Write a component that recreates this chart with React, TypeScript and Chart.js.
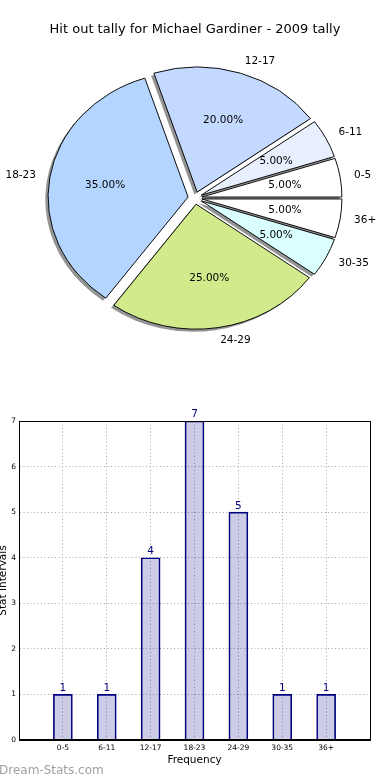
import React, { useEffect, useRef } from 'react';
import { Chart, registerables } from 'chart.js';

Chart.register(...registerables);

// ---------- data ----------
const TITLE = 'Hit out tally for Michael Gardiner - 2009 tally';
const categories = ['0-5', '6-11', '12-17', '18-23', '24-29', '30-35', '36+'];
const tallies = [1, 1, 4, 7, 5, 1, 1];
const sliceColors = ['#ffffff', '#e8f0ff', '#c4d9ff', '#b3d5ff', '#d1eb8c', '#d9ffff', '#ffffff'];
const yMin = 0;
const yMax = 7;
const X_TITLE = 'Frequency';
const Y_TITLE = 'Stat Intervals';
const WATERMARK = 'Dream-Stats.com';

// ---------- styling ----------
const FONT = '"DejaVu Sans", sans-serif';
const R = 140;
const SY = 125 / 140;
const EXPLODE = 7;

const total = tallies.reduce((a, b) => a + b, 0);
// Matplotlib draws counter-clockwise from 3 o'clock; Chart.js clockwise, so reverse.
const pieLabels = [...categories].reverse();
const pieValues = [...tallies].reverse();
const pieColors = [...sliceColors].reverse();

const piePlugin = {
  id: 'mplPie',
  afterDatasetsUpdate(chart: any) {
    const meta = chart.getDatasetMeta(0);
    meta.data.forEach((el: any) => {
      const mid = (el.startAngle + el.endAngle) / 2;
      el.x += Math.cos(mid) * EXPLODE;
      el.y += Math.sin(mid) * EXPLODE;
    });
  },
  beforeDatasetsDraw(chart: any) {
    const ctx = chart.ctx;
    const a = chart.chartArea;
    const cx = (a.left + a.right) / 2;
    const cy = (a.top + a.bottom) / 2;
    ctx.save();
    ctx.translate(cx, cy);
    ctx.scale(1, SY);
    ctx.translate(-cx, -cy);
    const meta = chart.getDatasetMeta(0);
    ctx.fillStyle = 'rgba(0,0,0,0.42)';
    meta.data.forEach((el: any) => {
      const x = el.x - 2.8;
      const y = el.y + 2.8;
      ctx.beginPath();
      ctx.moveTo(x, y);
      ctx.arc(x, y, el.outerRadius, el.startAngle, el.endAngle);
      ctx.closePath();
      ctx.fill();
    });
  },
  afterDatasetsDraw(chart: any) {
    const ctx = chart.ctx;
    ctx.restore();
    const a = chart.chartArea;
    const cy = (a.top + a.bottom) / 2;
    const meta = chart.getDatasetMeta(0);
    ctx.save();
    ctx.fillStyle = '#000';
    ctx.font = `10.5px ${FONT}`;
    ctx.textBaseline = 'middle';
    meta.data.forEach((el: any, i: number) => {
      const mid = (el.startAngle + el.endAngle) / 2;
      const dx = Math.cos(mid);
      const dy = Math.sin(mid);
      const lx = el.x + dx * 1.1 * R;
      const ly = cy + (el.y - cy + dy * 1.1 * R) * SY;
      ctx.textAlign = dx > 0 ? 'left' : 'right';
      ctx.fillText(pieLabels[i], lx, ly);
      const px = el.x + dx * 0.6 * R;
      const py = cy + (el.y - cy + dy * 0.6 * R) * SY;
      ctx.textAlign = 'center';
      ctx.fillText(((pieValues[i] / total) * 100).toFixed(2) + '%', px, py);
    });
    ctx.restore();
  },
  afterDraw(chart: any) {
    const ctx = chart.ctx;
    ctx.save();
    ctx.fillStyle = '#000';
    ctx.font = `13px ${FONT}`;
    ctx.textAlign = 'center';
    ctx.textBaseline = 'middle';
    ctx.fillText(TITLE, 195, 30);
    ctx.restore();
  },
};

const barPlugin = {
  id: 'mplBar',
  afterDatasetsDraw(chart: any) {
    const ctx = chart.ctx;
    const meta = chart.getDatasetMeta(0);
    const a = chart.chartArea;
    ctx.save();
    ctx.font = `10.5px ${FONT}`;
    ctx.fillStyle = '#000080';
    ctx.textAlign = 'center';
    ctx.textBaseline = 'bottom';
    meta.data.forEach((el: any, i: number) => {
      ctx.fillText(String(tallies[i]), el.x, el.y - 1);
    });
    ctx.strokeStyle = '#000';
    ctx.lineWidth = 1;
    const l = Math.floor(a.left) + 0.5;
    const t = Math.floor(a.top) + 0.5;
    const r = Math.floor(a.right) + 0.5;
    const b = Math.floor(a.bottom) - 0.5;
    ctx.strokeRect(l, t, r - l, b - t);
    // axis titles
    ctx.fillStyle = '#000';
    ctx.textBaseline = 'middle';
    ctx.fillText(X_TITLE, (a.left + a.right) / 2, 380);
    ctx.save();
    ctx.translate(3.5, (a.top + a.bottom) / 2);
    ctx.rotate(-Math.PI / 2);
    ctx.fillText(Y_TITLE, 0, 0);
    ctx.restore();
    // watermark
    ctx.font = `12px ${FONT}`;
    ctx.fillStyle = '#a0a0a0';
    ctx.textAlign = 'left';
    ctx.fillText(WATERMARK, -1, 391);
    ctx.restore();
  },
};

function PieChart() {
  const ref = useRef<HTMLCanvasElement>(null);
  useEffect(() => {
    const chart = new Chart(ref.current as HTMLCanvasElement, {
      type: 'pie',
      data: {
        labels: pieLabels,
        datasets: [
          {
            data: pieValues,
            backgroundColor: pieColors,
            borderColor: '#000',
            borderWidth: 1,
            radius: R,
            rotation: 90,
          } as any,
        ],
      },
      options: {
        responsive: false,
        animation: false,
        rotation: 90,
        radius: R,
        layout: { padding: { top: 18, bottom: 2, left: 0, right: 0 } },
        plugins: { legend: { display: false }, tooltip: { enabled: false } },
        events: [],
      } as any,
      plugins: [piePlugin],
    });
    return () => chart.destroy();
  }, []);
  return (
    <canvas
      ref={ref}
      width={390}
      height={380}
      style={{ position: 'absolute', left: 0, top: 0, width: 390, height: 380 }}
    />
  );
}

function BarChart() {
  const ref = useRef<HTMLCanvasElement>(null);
  useEffect(() => {
    const gridColor = '#a8a8a8';
    const chart = new Chart(ref.current as HTMLCanvasElement, {
      type: 'bar',
      data: {
        datasets: [
          {
            data: tallies.map((v, i) => ({ x: i, y: v })),
            backgroundColor: 'rgba(0,0,128,0.2)',
            borderColor: '#000080',
            borderWidth: 1,
            barThickness: 19,
          } as any,
        ],
      },
      options: {
        responsive: false,
        animation: false,
        events: [],
        layout: { padding: { top: 41, right: 20, left: 0, bottom: 0 } },
        plugins: { legend: { display: false }, tooltip: { enabled: false } },
        scales: {
          x: {
            type: 'linear',
            min: -1,
            max: categories.length,
            offset: false,
            grid: { offset: false, color: gridColor, lineWidth: 1, drawTicks: false },
            border: { display: true, color: '#000', width: 1, dash: [1, 2.5] },
            ticks: {
              stepSize: 1,
              autoSkip: false,
              maxRotation: 0,
              padding: 4,
              color: '#000',
              font: { size: 7.5, family: FONT },
              callback: (v: any) => categories[v] ?? '',
            },
            afterFit: (s: any) => {
              s.height = 40;
            },
          },
          y: {
            min: yMin,
            max: yMax,
            grid: { color: gridColor, lineWidth: 1, drawTicks: false },
            border: { display: true, color: '#000', width: 1, dash: [1, 2.5] },
            ticks: {
              stepSize: 1,
              padding: 3,
              color: '#000',
              font: { size: 7.5, family: FONT },
            },
            afterFit: (s: any) => {
              s.width = 19;
            },
          },
        },
      } as any,
      plugins: [barPlugin],
    });
    return () => chart.destroy();
  }, []);
  return (
    <canvas
      ref={ref}
      width={390}
      height={400}
      style={{ position: 'absolute', left: 0, top: 380, width: 390, height: 400 }}
    />
  );
}

export default function App() {
  return (
    <div
      style={{
        position: 'absolute',
        left: 0,
        top: 0,
        width: 390,
        height: 780,
        background: '#fff',
        overflow: 'hidden',
      }}
    >
      <PieChart />
      <BarChart />
    </div>
  );
}
